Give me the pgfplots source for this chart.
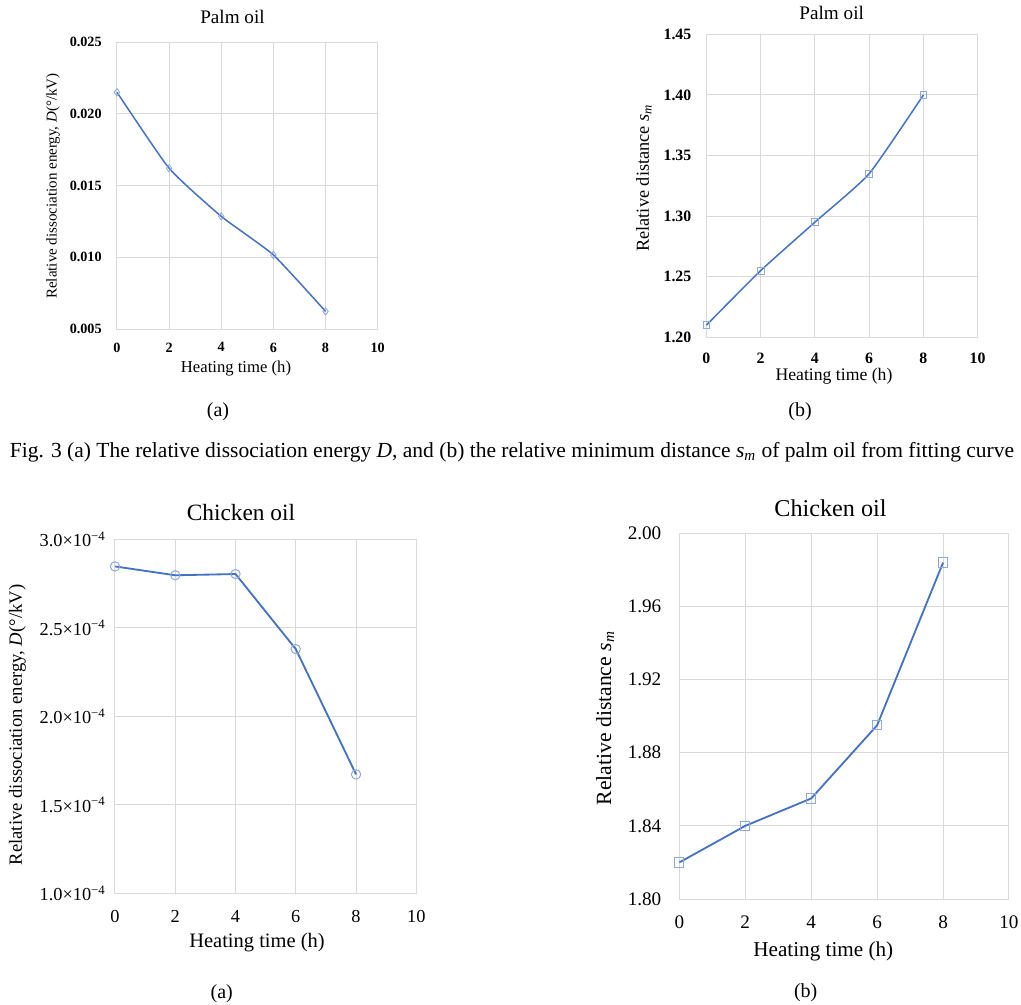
\documentclass[border=0pt]{standalone}
\usepackage{fontspec}
\setmainfont{Liberation Serif}
\usepackage{pgfplots}
\pgfplotsset{compat=1.18}

\definecolor{exblue}{HTML}{4472C4}
\definecolor{exmark}{HTML}{8EA9DB}
\definecolor{exgrid}{HTML}{D9D9D9}
\newcommand{\fs}[1]{\fontsize{#1}{#1}\selectfont}
\newcommand{\sci}[1]{#1×10\textsuperscript{−4}}
\def\pxu{0.6pt}

\pgfplotsset{
  exc/.style={
    scale only axis, anchor=south west,
    xmin=0, xmax=10, xtick={0,2,4,6,8,10},
    scaled y ticks=false, scaled x ticks=false,
    grid=major,
    major grid style={draw=exgrid, line width=0.6pt},
    axis line style={draw=exgrid, line width=0.6pt},
    tick style={draw=none}, major tick length=0pt,
    /pgf/number format/assume math mode=true,
    xticklabel style={anchor=north, inner sep=0pt},
    yticklabel style={anchor=east, inner sep=0pt},
    clip=false,
  },
  fix/.style={/pgf/number format/fixed, /pgf/number format/fixed zerofill,
    /pgf/number format/precision=#1},
}

\begin{document}
\begin{tikzpicture}
\useasboundingbox (0,0) rectangle ({1021*\pxu},{-1004*\pxu});

% ---- top left: palm oil, D
\begin{axis}[exc, at={(70.2pt,-197.4pt)}, width=156.4pt, height=172.2pt,
    ymin=0.005, ymax=0.025, ytick={0.005,0.010,0.015,0.020,0.025},
    yticklabel style={fix=3, xshift=-9pt, font=\fs{8.5}\bfseries},
    xticklabel style={yshift=-8pt, font=\fs{8.5}\bfseries}]
  \addplot[exblue, line width=0.9pt, smooth, tension=0.3,
    mark=diamond, mark size=2.2pt, mark options={draw=exmark, fill=none, line width=0.5pt}]
    coordinates {(0,0.0215) (2,0.0162) (4,0.01285) (6,0.01016) (8,0.00623)};
\end{axis}

% ---- top right: palm oil, s_m
\begin{axis}[exc, at={(423.8pt,-202.4pt)}, width=162.8pt, height=181.8pt,
    ymin=1.20, ymax=1.45, ytick={1.20,1.25,1.30,1.35,1.40,1.45},
    yticklabel style={fix=2, xshift=-8.8pt, font=\fs{9.5}\bfseries},
    xticklabel style={yshift=-9pt, font=\fs{9.5}\bfseries}]
  \addplot[exblue, line width=0.9pt, smooth, tension=0.3,
    mark=square, mark size=2pt, mark options={draw=exmark, fill=none, line width=0.5pt}]
    coordinates {(0,1.21) (2,1.255) (4,1.295) (6,1.335) (8,1.40)};
\end{axis}

% ---- bottom left: chicken oil, D
\begin{axis}[exc, at={(69pt,-536pt)}, width=180.8pt, height=212.4pt,
    ymin=1e-4, ymax=3e-4, ytick={1e-4,1.5e-4,2e-4,2.5e-4,3e-4},
    yticklabels={\sci{1.0},\sci{1.5},\sci{2.0},\sci{2.5},\sci{3.0}},
    xticklabel style={yshift=-10pt, font=\fs{11}},
    yticklabel style={xshift=-5.4pt, font=\fs{11}}]
  \addplot[exblue, line width=1.1pt,
    mark=o, mark size=2.8pt, mark options={draw=exmark, fill=none, line width=0.6pt}]
    coordinates {(0,2.847e-4) (2,2.797e-4) (4,2.804e-4) (6,2.38e-4) (8,1.672e-4)};
\end{axis}

% ---- bottom right: chicken oil, s_m
\begin{axis}[exc, at={(407.6pt,-539.4pt)}, width=197.8pt, height=219.4pt,
    ymin=1.80, ymax=2.00, ytick={1.80,1.84,1.88,1.92,1.96,2.00},
    yticklabel style={fix=2, xshift=-10.6pt, font=\fs{11.5}},
    xticklabel style={yshift=-10pt, font=\fs{11.5}}]
  \addplot[exblue, line width=1.1pt,
    mark=square, mark size=2.8pt, mark options={draw=exmark, fill=none, line width=0.6pt}]
    coordinates {(0,1.820) (2,1.840) (4,1.855) (6,1.895) (8,1.984)};
\end{axis}

% ---- titles, axis labels, captions
\node[font=\fs{11.5}] at ({232.5*\pxu},{-16.7*\pxu}) {Palm oil};
\node[font=\fs{10}] at ({236*\pxu},{-369*\pxu}) {Heating time (h)};
\node[font=\fs{9}, rotate=90] at ({53*\pxu},{-186*\pxu}) {Relative dissociation energy, \textit{D}(°/kV)};
\node[font=\fs{12}] at ({218*\pxu},{-412*\pxu}) {(a)};

\node[font=\fs{11.5}] at ({831.7*\pxu},{-12.7*\pxu}) {Palm oil};
\node[font=\fs{10.6}] at ({834*\pxu},{-376*\pxu}) {Heating time (h)};
\node[font=\fs{11}, rotate=90] at ({644*\pxu},{-178*\pxu}) {Relative distance \textit{s}\textsubscript{\textit{m}}};
\node[font=\fs{12}] at ({800*\pxu},{-412*\pxu}) {(b)};

\node[font=\fs{12.9}] at ({512*\pxu},{-452*\pxu}) {Fig. 3 (a) The relative dissociation energy \textit{D}, and (b) the relative minimum distance \textit{s}\textsubscript{\textit{m}} of palm oil from fitting curve};

\node[font=\fs{14}] at ({241*\pxu},{-512.7*\pxu}) {Chicken oil};
\node[font=\fs{12.3}] at ({257*\pxu},{-942.7*\pxu}) {Heating time (h)};
\node[font=\fs{11.2}, rotate=90] at ({17.3*\pxu},{-725*\pxu}) {Relative dissociation energy, \textit{D}(°/kV)};
\node[font=\fs{12}] at ({221.7*\pxu},{-993.3*\pxu}) {(a)};

\node[font=\fs{14.5}] at ({830.5*\pxu},{-508.3*\pxu}) {Chicken oil};
\node[font=\fs{12.7}] at ({823.3*\pxu},{-951.7*\pxu}) {Heating time (h)};
\node[font=\fs{13}, rotate=90] at ({605*\pxu},{-718.3*\pxu}) {Relative distance \textit{s}\textsubscript{\textit{m}}};
\node[font=\fs{12}] at ({805.7*\pxu},{-992.7*\pxu}) {(b)};
\end{tikzpicture}
\end{document}
